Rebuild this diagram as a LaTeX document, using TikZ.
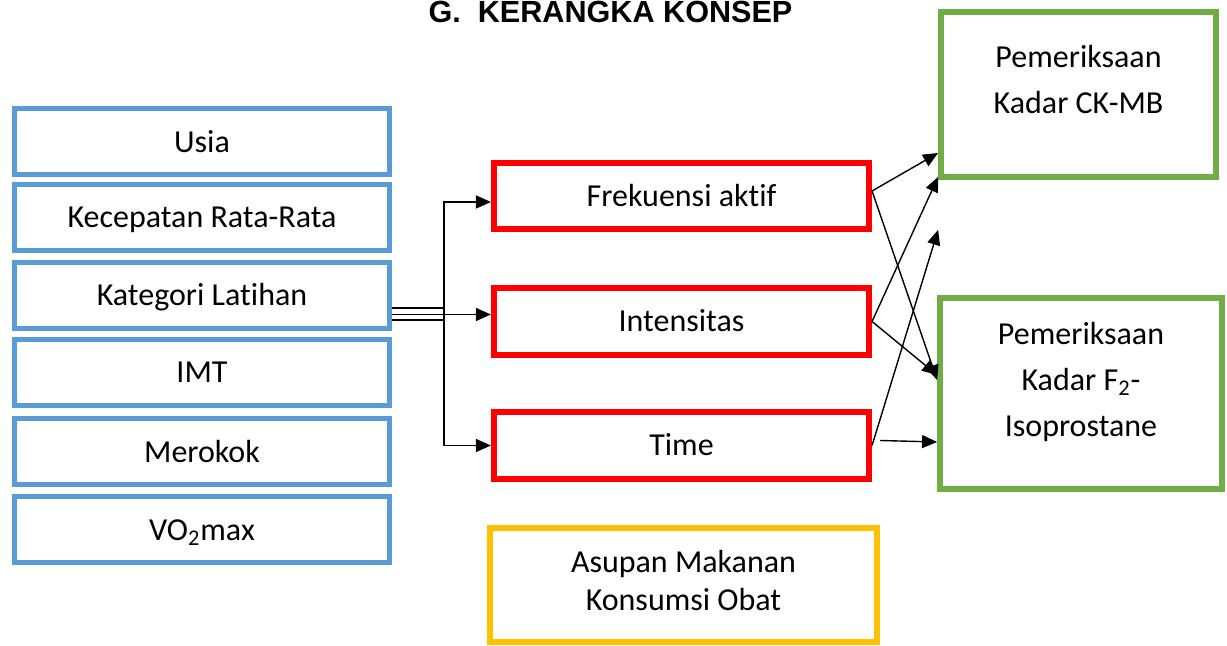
\documentclass[tikz,border=0pt]{standalone}
\usepackage{fontspec}
\setmainfont{Carlito}[Ligatures={NoCommon}]
\newfontfamily\titlefont{Liberation Sans}
\usetikzlibrary{arrows.meta, calc}
\definecolor{kotakbiru}{HTML}{5B9BD5}
\definecolor{kotakmerah}{HTML}{FF0000}
\definecolor{kotakhijau}{HTML}{70AD47}
\definecolor{kotakkuning}{HTML}{FFC000}
\newcommand{\FONTISI}{\fontsize{16}{23}\selectfont}
\tikzset{
    kotak/.style={draw, inner sep=0pt, font=\FONTISI, text height=10.3pt, text depth=0pt},
    biru/.style={kotak, draw=kotakbiru, line width=2.5pt, minimum width=187.5pt, minimum height=33pt},
    merah/.style={kotak, draw=kotakmerah, line width=2.8pt, minimum width=187.75pt, minimum height=33.25pt},
    hijau/.style={draw=kotakhijau, line width=2.9pt},
    kuning/.style={draw=kotakkuning, line width=2.9pt},
    isi/.style={inner sep=0pt, align=center, font=\FONTISI},
    panah/.style={line width=0.7pt, -{Triangle[length=7.5pt, width=6.5pt]}},
}

\begin{document}
\begin{tikzpicture}[x=0.5pt, y=-0.5pt]
        \useasboundingbox (0, 0) rectangle (1227, 646);

        % 标题
        \node[anchor=base, font=\titlefont\bfseries\fontsize{15.3}{18}\selectfont] (judul) at (610.5, 23) {G.~ KERANGKA KONSEP};

        % 左边一列(蓝色)
        \node[biru] (usia) at (202, 142) {Usia};
        \node[biru] (kecepatan) at (202, 217.5) {Kecepatan Rata-Rata};
        \node[biru] (kategori) at (202, 295.5) {Kategori Latihan};
        \node[biru] (imt) at (202, 372.5) {IMT};
        \node[biru] (merokok) at (202, 452) {Merokok};
        \node[biru] (vo) at (202, 530) {VO\textsubscript{2}max};

        % 中间一列(红色)
        \node[merah] (frekuensi) at (681.5, 196) {Frekuensi aktif};
        \node[merah] (intensitas) at (681.5, 321.5) {Intensitas};
        \node[merah] (time) at (681.5, 445.5) {Time};

        % 右边(绿色)和下面(黄色)
        \node[hijau, minimum width=137.5pt, minimum height=82.5pt] (ckmb) at (1078.5, 94.5) {};
        \node[isi] (ckmbteks) at (1078.5, 80) {Pemeriksaan\\Kadar CK-MB};
        \node[hijau, minimum width=141pt, minimum height=95.5pt] (isopros) at (1081, 393.5) {};
        \node[isi] (isoprosteks) at (1081, 382) {Pemeriksaan\\Kadar F\textsubscript{2}-\\Isoprostane};
        \node[kuning, minimum width=193.5pt, minimum height=57pt] (asupan) at (683.5, 585) {};
        \node[isi, font=\fontsize{16}{19}\selectfont] (asupanteks) at (683.5, 580.5) {Asupan Makanan\\Konsumsi Obat};

        % 左边的连线
        \coordinate (katatas) at ($(kategori.east)+(0, 12.5)$);
        \coordinate (katbawah) at ($(kategori.east)+(0, 24.5)$);
        \draw[panah] (katatas) -- ++(52, 0) coordinate (batangatas) |- ($(frekuensi.west)+(0, 6)$);
        \draw[line width=0.7pt] (katbawah) -- ++(52, 0) coordinate (batangbawah) -- (batangatas);
        \draw[panah] (batangbawah) |- (time.west);
        \draw[panah] ($(kategori.east)+(0, 19)$) -- ($(intensitas.west)+(0, -7)$);

        % 右边的交叉箭头
        \coordinate (lepas) at ($(ckmb.south west)+(0, 50)$); % 没有终点的箭头
        \draw[panah] ($(frekuensi.east)+(0, -5)$) -- ($(ckmb.west)+(0, 58.5)$);
        \draw[panah] ($(frekuensi.east)+(0, -5)$) -- ($(isopros.west)+(0, -13.5)$);
        \draw[panah] (intensitas.east) -- ($(ckmb.south west)+(0, -3)$);
        \draw[panah] (intensitas.east) -- ($(isopros.west)+(0, -18.5)$);
        \draw[panah] (time.east) -- (lepas);
        \draw[panah] ($(time.east)+(8, -5)$) -- ($(isopros.west)+(0, 48.5)$);

    \end{tikzpicture}
\end{document}
